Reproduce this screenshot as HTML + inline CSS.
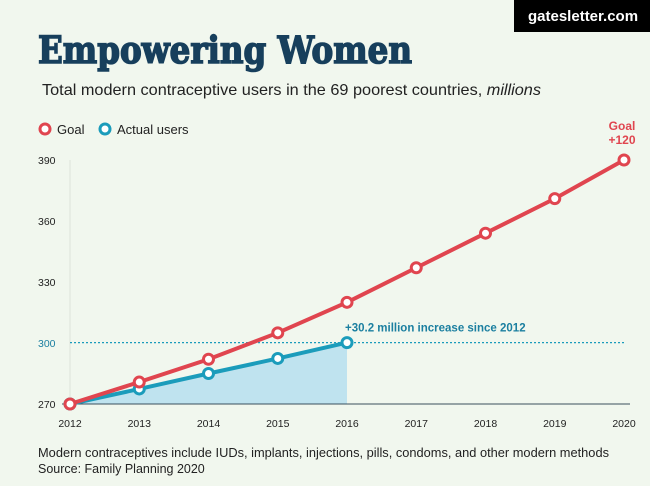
<!DOCTYPE html>
<html><head><meta charset="utf-8"><style>
body{margin:0;background:#f1f7ee;}
svg{display:block;font-family:"Liberation Sans",sans-serif;}
</style></head><body>
<svg width="650" height="486" viewBox="0 0 650 486">
<rect x="0" y="0" width="650" height="486" fill="#f1f7ee"/>
<rect x="514" y="0" width="136" height="32" fill="#000"/>
<text x="528" y="21" font-size="15" font-weight="bold" fill="#fff">gatesletter.com</text>
<text x="38" y="63" font-size="37" font-weight="bold" font-family="DejaVu Serif,serif" fill="#173f5c" stroke="#173f5c" stroke-width="1.6" textLength="374" lengthAdjust="spacingAndGlyphs">Empowering Women</text>
<text x="42" y="95" font-size="16" fill="#222" textLength="499" lengthAdjust="spacingAndGlyphs">Total modern contraceptive users in the 69 poorest countries, <tspan font-style="italic">millions</tspan></text>
<g>
<circle cx="45" cy="129" r="5" fill="#fff" stroke="#e0454f" stroke-width="3"/>
<text x="57" y="134" font-size="13" fill="#222">Goal</text>
<circle cx="105" cy="129" r="5" fill="#fff" stroke="#1b9cbb" stroke-width="3"/>
<text x="117" y="134" font-size="13" fill="#222">Actual users</text>
</g>
<g id="plot"></g>
<text x="622" y="130" font-size="12" font-weight="bold" fill="#e0454f" text-anchor="middle">Goal</text>
<text x="622" y="144" font-size="12" font-weight="bold" fill="#e0454f" text-anchor="middle">+120</text>
<text x="38" y="457" font-size="12.5" fill="#222" textLength="571" lengthAdjust="spacingAndGlyphs">Modern contraceptives include IUDs, implants, injections, pills, condoms, and other modern methods</text>
<text x="38" y="473" font-size="12.5" fill="#222">Source: Family Planning 2020</text>
</svg>
<script>
const years=[2012,2013,2014,2015,2016,2017,2018,2019,2020];
const goalValues=[270,280.8,292,305,320,337,354,371,390];
const actualYears=[2012,2013,2014,2015,2016];
const actualValues=[270,277.4,285,292.4,300.2];
const yTicks=[270,300,330,360,390];
const increaseLabel="+30.2 million increase since 2012";

const NS="http://www.w3.org/2000/svg";
const g=document.getElementById('plot');
const x=v=>70+(v-2012)*(624-70)/8;
const y=v=>404-(v-270)*(404-160)/120;
function mk(t,a){const e=document.createElementNS(NS,t);for(const k in a)e.setAttribute(k,a[k]);g.appendChild(e);return e;}

yTicks.forEach(t=>{
  const l=mk('text',{x:38,y:y(t)+4,'font-size':10.5,fill:t===300?'#1b7fa0':'#222'});l.textContent=t;
  
  
});
let ax=mk('line',{x1:70,y1:160,x2:70,y2:404,stroke:'#dde3d9','stroke-width':1});


years.forEach(yr=>{
  const t=mk('text',{x:x(yr),y:427,'font-size':10.5,fill:'#222','text-anchor':'middle'});t.textContent=yr;
  
  
});

let ap='M'+x(actualYears[0])+','+y(270);
actualYears.forEach((yr,i)=>ap+=' L'+x(yr)+','+y(actualValues[i]));
ap+=' L'+x(actualYears[actualYears.length-1])+','+y(270)+' Z';
let area=mk('path',{d:ap,fill:'#bfe3ef'});



let bx=mk('line',{x1:62,y1:404,x2:630,y2:404,stroke:'#3a4f5c','stroke-width':1});



const last=actualValues[actualValues.length-1];
let ref=mk('line',{x1:70,y1:y(last),x2:624,y2:y(last),stroke:'#1b9cbb','stroke-width':1.2,'stroke-dasharray':'2,2'});


let it=mk('text',{x:x(2016)-2,y:y(last)-11,'font-size':11.5,'font-weight':'bold',fill:'#1b7fa0'});it.textContent=increaseLabel;



let al=mk('polyline',{points:actualYears.map((yr,i)=>x(yr)+','+y(actualValues[i])).join(' '),fill:'none',stroke:'#1b9cbb','stroke-width':4});


actualYears.forEach((yr,i)=>{
  const c=mk('circle',{cx:x(yr),cy:y(actualValues[i]),r:5,fill:'#fff',stroke:'#1b9cbb','stroke-width':3});
  
  
});
let gl=mk('polyline',{points:years.map((yr,i)=>x(yr)+','+y(goalValues[i])).join(' '),fill:'none',stroke:'#e0454f','stroke-width':4});


years.forEach((yr,i)=>{
  const c=mk('circle',{cx:x(yr),cy:y(goalValues[i]),r:5,fill:'#fff',stroke:'#e0454f','stroke-width':3});
  
  
});
</script>
</body></html>
